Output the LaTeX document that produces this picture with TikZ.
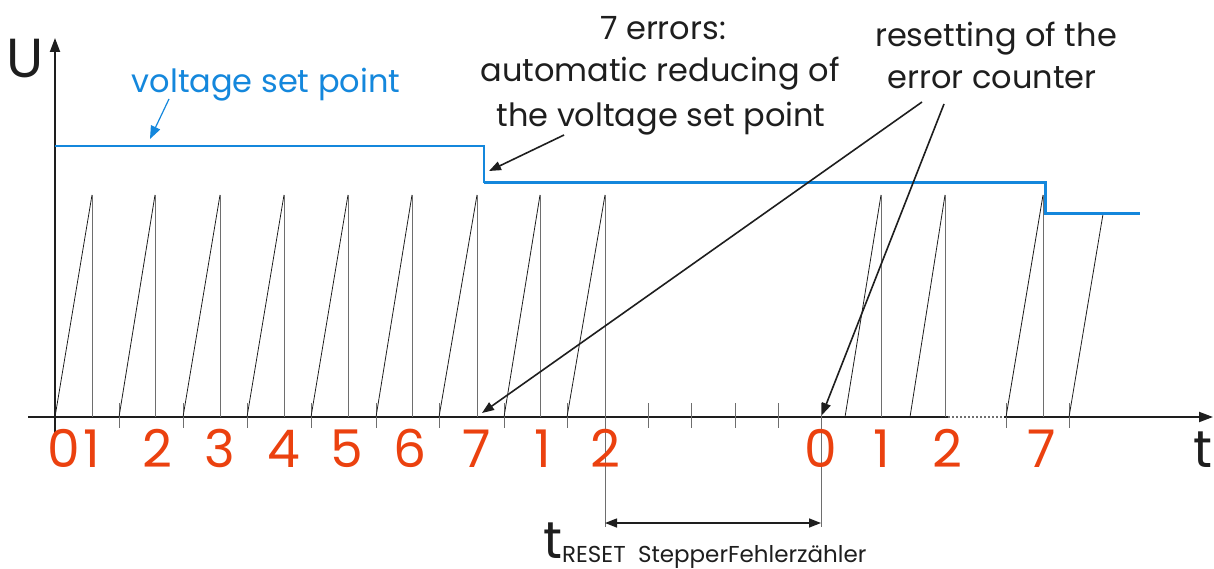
\documentclass[tikz,border=0pt]{standalone}
\usepackage{fontspec}
\setmainfont{Poppins}
\usetikzlibrary{arrows.meta}
\definecolor{vblue}{RGB}{20,135,220}
\definecolor{nred}{RGB}{235,65,15}
\definecolor{tgrey}{RGB}{110,110,110}
\definecolor{ink}{RGB}{30,30,30}
\begin{document}
\begin{tikzpicture}[x=1pt,y=-1pt,
  lbl/.style={inner sep=0pt, anchor=base, font=\fontsize{32}{38}\selectfont, text=ink},
  num/.style={inner sep=0pt, anchor=base, font=\fontsize{52}{60}\selectfont, text=nred},
  ramp/.style={line width=0.8pt, ink},
  drop/.style={line width=1pt, tgrey},
  tickline/.style={line width=1pt, tgrey},
  axis/.style={line width=2pt, ink},
  ptr/.style={line width=1.6pt, ink, -{Triangle[length=12pt,width=9pt]}},
]
\useasboundingbox (0,0) rectangle (1214,569);
% axes
\coordinate (xs) at (28,417);
\coordinate (d1) at (948,417);
\coordinate (d2) at (1004,417);
\coordinate (xe) at (1213,417);
\coordinate (yb) at (55,437);
\coordinate (ye) at (55,38);
\draw[axis,-{Triangle[length=14pt,width=10pt]}] (yb) -- (ye);
\draw[axis] (xs) -- (d1);
\draw[axis, dotted, tgrey] (d1) -- (d2);
\draw[axis,-{Triangle[length=14pt,width=10pt]}] (d2) -- (xe);
% ticks
\foreach \x in {119,183,247,311,376,439,504,567,648,691,735,778,1006,1069}
  \draw[tickline] (\x,403) -- (\x,428);
% sawtooth
\foreach \s/\p in {55/92,119/155,183/220,247/284,311/348,376/412,439/477,504/540,567/605,845/881,910/945,1006/1043}{
  \draw[ramp] (\s,417) -- (\p,195);
  \draw[drop] (\p,195) -- (\p,417);
}
\draw[ramp] (1069,417) -- (1103,214);
% extension lines
\draw[drop] (605,417) -- (605,527);
\draw[drop] (821,403) -- (821,527);
% set point
\draw[vblue, line width=2pt] (55,146) -- (484,146) -- (484,183);
\draw[vblue, line width=3pt] (484,183) -- (1045,183) -- (1045,214) -- (1140,214);
% labels
\node[lbl, font=\fontsize{55}{60}\selectfont] (U) at (25,78) {U};
\node[lbl, text=vblue] (vsp) at (266,93) {voltage set point};
\coordinate (va) at (169,99);
\coordinate (vt) at (150,139);
\draw[vblue, line width=1.2pt, -{Triangle[length=13pt,width=10pt]}] (va) -- (vt);
\node[lbl] (e1) at (663,40) {7 errors:};
\node[lbl] (e2) at (660,82) {automatic reducing of};
\node[lbl] (e3) at (661,127) {the voltage set point};
\coordinate (ea) at (564,135);
\coordinate (et) at (489,171);
\draw[ptr] (ea) -- (et);
\node[lbl] (r1) at (996,47) {resetting of the};
\node[lbl] (r2) at (992,89) {error counter};
\coordinate (ra1) at (922,102);
\coordinate (rt1) at (482,413);
\coordinate (ra2) at (944,104);
\coordinate (rt2) at (822,415);
\draw[ptr] (ra1) -- (rt1);
\draw[ptr] (ra2) -- (rt2);
% numbers
\foreach \x/\t [count=\i] in {64/0,92/1,157/2,220/3,284/4,347/5,410/6,477/7,543/1,605/2,821/0,882/1,947/2,1042/7}
  \node[num] (n\i) at (\x,467) {\t};
\node[lbl, font=\fontsize{52}{60}\selectfont] (tl) at (1203,467) {t};
% dimension
\coordinate (dl) at (605,523);
\coordinate (dr) at (821,523);
\draw[line width=1.4pt, ink, {Triangle[length=12pt,width=9pt]}-{Triangle[length=12pt,width=9pt]}] (dl) -- (dr);
\node[lbl, anchor=base west, text depth=0pt, font=\fontsize{52}{60}\selectfont] (tr) at (543,558) {t};
\node[lbl, anchor=base west, text depth=0pt, font=\fontsize{23}{28}\selectfont] (trs) at (562,562) {RESET\ \ StepperFehlerzähler};
\end{tikzpicture}
\end{document}
